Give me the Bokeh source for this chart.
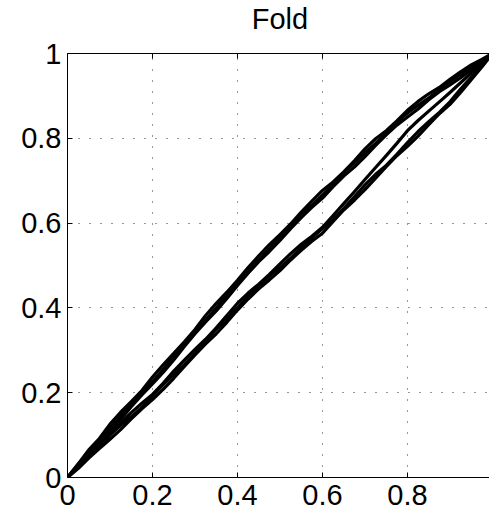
from bokeh.plotting import figure
from bokeh.layouts import column
from bokeh.models import FixedTicker, LinearAxis, Range1d, NumeralTickFormatter
from bokeh.core.properties import value
from bokeh.embed import file_html
from bokeh.resources import INLINE

title_text = "Fold"
tick_vals = [0, 0.2, 0.4, 0.6, 0.8, 1]
tick_labels = ["0", "0.2", "0.4", "0.6", "0.8", "1"]

x_vals = [0, .025, .05, .075, .10, .125, .15, .175, .20, .225, .25, .275, .30,
          .325, .35, .375, .40, .425, .45, .475, .50, .525, .55, .575, .60,
          .625, .65, .675, .70, .725, .75, .775, .80, .825, .85, .875, .90,
          .925, .95, .975, 1]

curve_u1 = [0, .032, .065, .092, .126, .154, .179, .205, .237, .266, .293, .320,
            .349, .382, .411, .437, .465, .495, .523, .549, .573, .598, .626,
            .652, .677, .697, .721, .747, .775, .799, .818, .841, .866, .887,
            .905, .920, .939, .957, .973, .986, 1]
curve_u2 = [0, .031, .059, .090, .116, .145, .175, .201, .226, .255, .287, .317,
            .345, .371, .400, .431, .462, .489, .513, .539, .568, .595, .620,
            .642, .666, .691, .718, .742, .766, .788, .812, .838, .860, .878,
            .895, .914, .934, .951, .966, .983, 1]
curve_u3 = [0, .027, .057, .084, .110, .137, .167, .195, .221, .248, .277, .309,
            .339, .367, .393, .422, .453, .482, .509, .533, .559, .587, .613,
            .637, .659, .686, .711, .732, .757, .783, .808, .831, .850, .869,
            .891, .910, .926, .943, .962, .980, 1]
curve_m = [0, .027, .052, .079, .102, .128, .153, .175, .196, .222, .251, .277,
           .302, .326, .353, .382, .411, .435, .456, .479, .504, .528, .550,
           .569, .590, .618, .646, .674, .703, .731, .759, .788, .818, .842,
           .864, .886, .908, .931, .954, .977, 1]
curve_l1 = [0, .024, .050, .071, .100, .123, .143, .165, .193, .219, .243, .266,
            .292, .323, .350, .374, .400, .427, .452, .475, .495, .517, .542,
            .565, .587, .608, .634, .662, .690, .715, .736, .762, .790, .816,
            .839, .861, .886, .916, .944, .971, 1]
curve_l2 = [0, .021, .046, .068, .090, .113, .138, .162, .184, .208, .234, .262,
            .289, .315, .339, .366, .395, .421, .445, .466, .488, .513, .536,
            .557, .576, .604, .631, .654, .679, .706, .733, .759, .781, .805,
            .832, .858, .880, .908, .938, .968, 1]

curves = [curve_u1, curve_u2, curve_u3, curve_m, curve_l1, curve_l2]

FONT = "Liberation Sans"
FSIZE = "29px"
TITLE_H = 35

# ---- title strip -------------------------------------------------------
tf = figure(width=489, height=TITLE_H, output_backend="svg",
            toolbar_location=None, title=None,
            x_range=Range1d(0, 0.993), y_range=Range1d(0, TITLE_H),
            min_border_left=67, min_border_right=0, min_border_top=0,
            min_border_bottom=0, x_axis_location=None, y_axis_location=None,
            background_fill_color="white", border_fill_color="white")
tf.outline_line_color = None
tf.grid.visible = False
tf.text(x=[0.5], y=[TITLE_H - 18], text=[title_text], text_align="center",
        text_baseline="alphabetic", text_font=value(FONT),
        text_font_size=FSIZE, text_color="black")

# ---- main axes ---------------------------------------------------------
p = figure(width=489, height=516 - TITLE_H, output_backend="svg",
           toolbar_location=None, title=None,
           x_range=Range1d(0, 0.993), y_range=Range1d(0, 1),
           min_border_left=67, min_border_right=0, min_border_top=53 - TITLE_H,
           min_border_bottom=39,
           background_fill_color="white", border_fill_color="white")
p.outline_line_color = None

overrides = dict(zip(tick_vals, tick_labels))
for ax in [p.xaxis[0], p.yaxis[0]]:
    ax.ticker = FixedTicker(ticks=tick_vals)
    ax.formatter = NumeralTickFormatter(format="0.[0]")
    ax.major_label_overrides = overrides
    ax.major_label_text_font = FONT
    ax.major_label_text_font_size = FSIZE
    ax.major_label_text_color = "black"
    ax.axis_line_color = "black"
    ax.axis_line_width = 1
    ax.major_tick_line_color = "black"
    ax.major_tick_in = 5
    ax.major_tick_out = 0
    ax.minor_tick_line_color = None
p.xaxis[0].major_label_standoff = 7
p.yaxis[0].major_label_standoff = 6

# top border of the box: an axis with only (unlabelled) minor ticks
top_axis = LinearAxis(ticker=FixedTicker(ticks=[], minor_ticks=tick_vals),
                      axis_line_color="black", major_tick_line_color=None,
                      minor_tick_line_color="black",
                      minor_tick_in=5, minor_tick_out=0,
                      major_tick_in=0, major_tick_out=0,
                      major_label_standoff=0)
p.add_layout(top_axis, "above")

for g in [p.xgrid[0], p.ygrid[0]]:
    g.ticker = FixedTicker(ticks=tick_vals)
    g.grid_line_color = "black"
    g.grid_line_dash = "1 10"
    g.grid_line_width = 1
    g.grid_line_alpha = 0.8

for c in curves:
    p.line(x_vals, c, line_color="black", line_width=3.2, line_join="round")

layout = column(tf, p, spacing=0)
open("out.html", "w").write(file_html(layout, INLINE))
